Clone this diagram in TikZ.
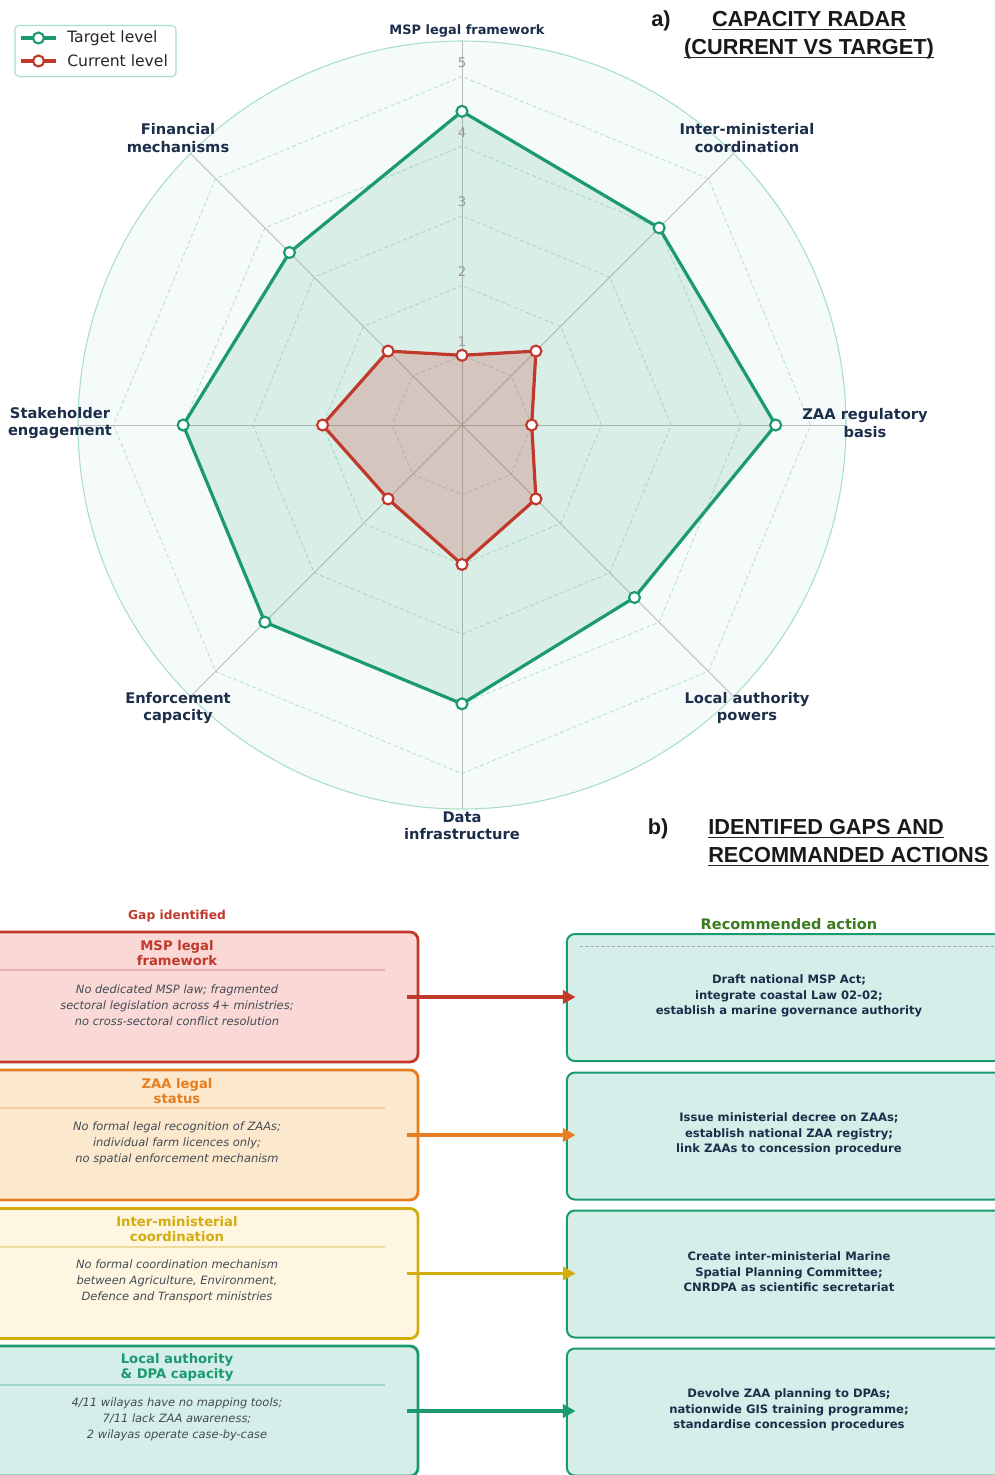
\documentclass[tikz,border=0pt]{standalone}
\usepackage{fontspec}
\setmainfont{DejaVu Sans}[BoldFont={DejaVu Sans Bold},ItalicFont={DejaVu Sans Oblique},BoldItalicFont={DejaVu Sans Bold Oblique}]
\newfontfamily\arialf{Liberation Sans}
\usetikzlibrary{arrows.meta}
\definecolor{tgreen}{HTML}{1A9A6E}
\definecolor{tred}{HTML}{C0392B}
\definecolor{torange}{HTML}{E67E22}
\definecolor{tgold}{HTML}{D4AC0D}
\definecolor{navy}{HTML}{1C2E4A}
\definecolor{diskfill}{HTML}{F5FAFA}
\definecolor{diskline}{HTML}{A8DFC8}
\definecolor{gridc}{HTML}{B3E0CF}
\definecolor{spokec}{HTML}{BBBBBB}
\definecolor{fillred}{HTML}{F9D8D6}
\definecolor{fillorange}{HTML}{FCE8CC}
\definecolor{fillgold}{HTML}{FEF6E1}
\definecolor{fillteal}{HTML}{D5EEEA}
\definecolor{bodygray}{HTML}{444B55}
\definecolor{recgreen}{HTML}{3D7B1F}
\definecolor{lvlgray}{HTML}{9A9A9A}
\tikzset{
  axlab/.style={font=\fontsize{11}{13}\selectfont\bfseries, text=navy, align=center, inner sep=0},
  lvl/.style={font=\fontsize{10}{12}\selectfont, text=lvlgray, inner sep=0},
  legtxt/.style={font=\fontsize{11.7}{14}\selectfont, text=black!85, anchor=west, inner sep=0},
  ttl/.style={font=\arialf\fontsize{16.3}{19}\selectfont\bfseries, text=black!90, inner sep=0, anchor=base},
  ul/.style={line width=1pt, black!85},
  gapbox/.style={draw, rounded corners=6pt, line width=2.1pt, minimum width=336pt, minimum height=97.5pt, inner sep=0, outer sep=0},
  actbox/.style={draw=tgreen, fill=fillteal, rounded corners=6pt, line width=1.5pt, minimum width=340pt, minimum height=95.25pt, inner sep=0, outer sep=0},
  gtitle/.style={font=\fontsize{9.9}{11.25}\selectfont\bfseries, align=center, inner sep=0},
  gbody/.style={font=\fontsize{8.6}{12}\selectfont\itshape, text=bodygray, align=center, inner sep=0},
  atext/.style={font=\fontsize{8.7}{11.6}\selectfont\bfseries, text=navy, align=center, inner sep=0},
  arr/.style={line width=2.3pt, -{Triangle[length=9.5pt,width=10pt]}},
  sepline/.style={line width=0.8pt},
  gridline/.style={gridc, line width=0.6pt, dash pattern=on 3pt off 2pt},
  spoke/.style={spokec, line width=0.75pt},
  tmark/.style={fill=white, draw=tgreen, line width=1.6pt},
  cmark/.style={fill=white, draw=tred, line width=1.6pt},
}
\begin{document}
\begin{tikzpicture}[x=0.75pt,y=-0.75pt]
\useasboundingbox (0,0) rectangle (995,1475);
\clip (0,0) rectangle (995,1475);
\fill[white] (0,0) rectangle (995,1475);

% ---------------- radar ----------------
\coordinate (ctr) at (462,425);
\begin{scope}[shift={(ctr)}, y=0.75pt]
  \fill[diskfill] (0,0) circle (384);
  \foreach \k in {1,...,5}{
    \pgfmathsetmacro{\rr}{69.7*\k}
    \draw[gridline] (0:\rr) \foreach \a in {45,90,...,315}{ -- (\a:\rr) } -- cycle;
  }
  \foreach \a in {0,45,...,315} \draw[spoke] (0,0) -- (\a:384);
  \draw[diskline, line width=0.8pt] (0,0) circle (384);
  % target
  \fill[tgreen, fill opacity=0.12] (90:313.65) -- (45:278.8) -- (0:313.65) -- (-45:243.95) -- (-90:278.8) -- (-135:278.8) -- (180:278.8) -- (135:243.95) -- cycle;
  % current
  \fill[tred, fill opacity=0.22] (90:69.7) -- (45:104.55) -- (0:69.7) -- (-45:104.55) -- (-90:139.4) -- (-135:104.55) -- (180:139.4) -- (135:104.55) -- cycle;
  \draw[tgreen, line width=2.4pt, line join=round] (90:313.65) -- (45:278.8) -- (0:313.65) -- (-45:243.95) -- (-90:278.8) -- (-135:278.8) -- (180:278.8) -- (135:243.95) -- cycle;
  \draw[tred, line width=2.4pt, line join=round] (90:69.7) -- (45:104.55) -- (0:69.7) -- (-45:104.55) -- (-90:139.4) -- (-135:104.55) -- (180:139.4) -- (135:104.55) -- cycle;
  \foreach \a/\v in {90/4.5,45/4,0/4.5,-45/3.5,-90/4,-135/4,180/4,135/3.5}
    \filldraw[tmark] (\a:{\v*69.7}) circle (5.5);
  \foreach \a/\v in {90/1,45/1.5,0/1,-45/1.5,-90/2,-135/1.5,180/2,135/1.5}
    \filldraw[cmark] (\a:{\v*69.7}) circle (5.5);
\end{scope}

% level numbers
\node[lvl] (lv1) at (462,342) {1};
\node[lvl] (lv2) at (462,272) {2};
\node[lvl] (lv3) at (462,202) {3};
\node[lvl] (lv4) at (462,133) {4};
\node[lvl] (lv5) at (462,63) {5};

% axis labels
\node[axlab, font=\fontsize{9.7}{12.5}\selectfont\bfseries] (l0) at (467,31) {MSP legal framework};
\node[axlab] (l1) at (747,138) {Inter-ministerial\\coordination};
\node[axlab] (l2) at (865,423) {ZAA regulatory\\basis};
\node[axlab] (l3) at (747,708) {Local authority\\powers};
\node[axlab] (l4) at (462,826) {Data\\infrastructure};
\node[axlab] (l5) at (178,708) {Enforcement\\capacity};
\node[axlab] (l6) at (60,423) {Stakeholder\\engagement};
\node[axlab] (l7) at (178,138) {Financial\\mechanisms};

% legend
\node[draw=diskline, fill=white, rounded corners=3pt, line width=0.8pt, minimum width=120.75pt, minimum height=38.25pt, inner sep=0] (leg) at (95.5,51) {};
\draw[tgreen, line width=2.4pt] (21,38) -- (56,38);
\filldraw[tmark] (38.5,38) circle (5.5);
\node[legtxt] (lt1) at (67,38) {Target level};
\draw[tred, line width=2.4pt] (21,61) -- (56,61);
\filldraw[cmark] (38.5,61) circle (5.5);
\node[legtxt] (lt2) at (67,61) {Current level};

% title a
\node[ttl] (ta) at (661,26) {a)};
\node[ttl] (ta1) at (809,26) {CAPACITY RADAR};
\node[ttl] (ta2) at (809,54) {(CURRENT VS TARGET)};
\draw[ul] ([yshift=-2.6pt]ta1.base west) -- ([yshift=-2.6pt]ta1.base east);
\draw[ul] ([yshift=-2.6pt]ta2.base west) -- ([yshift=-2.6pt]ta2.base east);

% title b
\node[ttl] (tb) at (658,834) {b)};
\node[ttl, anchor=base west] (tb1) at (708,834) {IDENTIFED GAPS AND};
\node[ttl, anchor=base west] (tb2) at (708,862) {RECOMMANDED ACTIONS};
\draw[ul] ([yshift=-2.6pt]tb1.base west) -- ([yshift=-2.6pt]tb1.base east);
\draw[ul] ([yshift=-2.6pt]tb2.base west) -- ([yshift=-2.6pt]tb2.base east);

% ---------------- gaps / actions ----------------
\node[font=\fontsize{9.2}{11}\selectfont\bfseries, text=tred, inner sep=0] (gh) at (177,916) {Gap identified};
\node[font=\fontsize{10.9}{13}\selectfont\bfseries, text=recgreen, inner sep=0] (ah) at (789,924) {Recommended action};

\node[gapbox, draw=tred, fill=fillred] (g1) at (194,997) {};
\node[gapbox, draw=torange, fill=fillorange] (g2) at (194,1135) {};
\node[gapbox, draw=tgold, fill=fillgold] (g3) at (194,1273.5) {};
\node[gapbox, draw=tgreen, fill=fillteal] (g4) at (194,1411) {};

\node[actbox] (a1) at (793.5,997.5) {};
\node[actbox] (a2) at (793.5,1136) {};
\node[actbox] (a3) at (793.5,1274) {};
\node[actbox] (a4) at (793.5,1412) {};
\draw[gray!70, line width=0.7pt, dash pattern=on 2.5pt off 1.5pt] (580,946) -- (1000,946);

\draw[sepline, tred!40] (-10,970) -- (385,970);
\draw[sepline, torange!40] (-10,1108) -- (385,1108);
\draw[sepline, tgold!40] (-10,1247) -- (385,1247);
\draw[sepline, tgreen!40] (-10,1385) -- (385,1385);

\node[gtitle, text=tred] (gt1) at (177,953.5) {MSP legal\\framework};
\node[gtitle, text=torange] (gt2) at (177,1091.5) {ZAA legal\\status};
\node[gtitle, text=tgold] (gt3) at (177,1229.5) {Inter-ministerial\\coordination};
\node[gtitle, text=tgreen] (gt4) at (177,1367.5) {Local authority\\\& DPA capacity};

\node[gbody] (gb1) at (177,1005) {No dedicated MSP law; fragmented\\sectoral legislation across 4+ ministries;\\no cross-sectoral conflict resolution};
\node[gbody] (gb2) at (177,1143) {No formal legal recognition of ZAAs;\\individual farm licences only;\\no spatial enforcement mechanism};
\node[gbody] (gb3) at (177,1281.5) {No formal coordination mechanism\\between Agriculture, Environment,\\Defence and Transport ministries};
\node[gbody] (gb4) at (177,1419.5) {4/11 wilayas have no mapping tools;\\7/11 lack ZAA awareness;\\2 wilayas operate case-by-case};

\node[atext] (at1) at (789,996) {Draft national MSP Act;\\integrate coastal Law 02-02;\\establish a marine governance authority};
\node[atext] (at2) at (789,1134) {Issue ministerial decree on ZAAs;\\establish national ZAA registry;\\link ZAAs to concession procedure};
\node[atext] (at3) at (789,1272) {Create inter-ministerial Marine\\Spatial Planning Committee;\\CNRDPA as scientific secretariat};
\node[atext] (at4) at (789,1410) {Devolve ZAA planning to DPAs;\\nationwide GIS training programme;\\standardise concession procedures};

\draw[arr, tred] ([xshift=-8.25pt]g1.east) -- ([xshift=6.5pt]a1.west |- g1.east);
\draw[arr, torange] ([xshift=-8.25pt]g2.east) -- ([xshift=6.5pt]a2.west |- g2.east);
\draw[arr, tgold] ([xshift=-8.25pt]g3.east) -- ([xshift=6.5pt]a3.west |- g3.east);
\draw[arr, tgreen] ([xshift=-8.25pt]g4.east) -- ([xshift=6.5pt]a4.west |- g4.east);
\end{tikzpicture}
\end{document}
